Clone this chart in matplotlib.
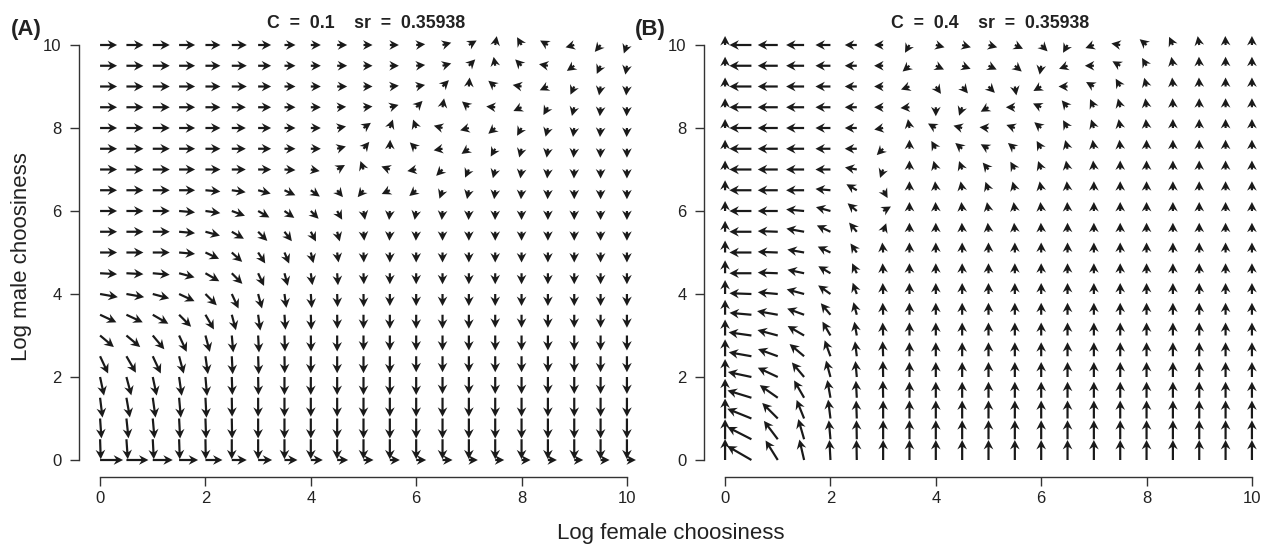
import numpy as np
import matplotlib
matplotlib.use("Agg")
import matplotlib.pyplot as plt

plt.rcParams['font.family'] = ['Liberation Sans', 'DejaVu Sans']

# ---------------- data ----------------
x_vals = [i * 0.5 for i in range(21)]          # log female choosiness grid
y_vals = [i * 0.5 for i in range(21)]          # log male choosiness grid
ticks = [0, 2, 4, 6, 8, 10]
titles = ["C  =  0.1    sr  =  0.35938", "C  =  0.4    sr  =  0.35938"]
panel_labels = ["(A)", "(B)"]
xlabel = "Log female choosiness"
ylabel = "Log male choosiness"

# Arrow directions (screen degrees, 0 = right, 90 = up); rows listed from y=10 down to y=0
angles_A = [
    [0]*12 + [5, 15, 30, 80, 120, 150, 195, 230, 250],                      # y=10
    [0]*12 + [5, 15, 45, 100, 135, 170, 215, 245, 260],                     # 9.5
    [0]*11 + [5, 10, 45, 85, 140, 170, 205, 245, 260, 265],                 # 9
    [0]*9 + [3, 5, 15, 45, 80, 140, 175, 205, 240, 255, 265, 268],          # 8.5
    [0]*9 + [10, 35, 70, 110, 165, 195, 220, 240, 255, 262, 266, 268],      # 8
    [0]*9 + [15, 50, 88, 135, 190, 215, 240, 255, 262, 265, 268, 270],      # 7.5
    [0]*7 + [-3, -10, 30, 110, 160, 190, 225, 245, 255, 262, 265, 268, 270, 270],  # 7
    [0]*4 + [-5, -8, -15, -25, -35, -50, 230, 205, 220, 250, 258, 263, 266, 268, 270, 270, 270],  # 6.5
    [0]*3 + [-5, -8, -20, -30, -35, -45, -60, -80, -95, -100, -95, -92, -91, -90, -90, -90, -90, -90],  # 6
    [0]*3 + [-5, -15, -30, -45, -52, -62, -75, -85, -93, -92] + [-90]*8,    # 5.5
    [0, 0, 0, -5, -25, -42, -57, -67, -76, -82, -88] + [-90]*10,            # 5
    [-3, -3, -5, -15, -30, -45, -65, -75, -82, -86, -88] + [-90]*10,        # 4.5
    [-10, -10, -15, -25, -45, -65, -75, -82, -86, -88, -89] + [-90]*10,     # 4
    [-25, -25, -30, -45, -60, -75, -82, -86, -88, -89, -90] + [-90]*10,     # 3.5
    [-40, -40, -50, -65, -75, -85, -87, -88, -89, -90, -90] + [-90]*10,     # 3
    [-65, -60, -65, -75, -82, -87, -88, -89, -90, -90, -90] + [-90]*10,     # 2.5
    [-78, -75, -78, -82, -85, -88, -89, -90, -90, -90, -90] + [-90]*10,     # 2
    [-83, -80, -82, -85, -87, -89, -90, -90, -90, -90, -90] + [-90]*10,     # 1.5
    [-86, -84, -85, -87, -88, -89, -90, -90, -90, -90, -90] + [-90]*10,     # 1
    [-88, -86, -87, -88, -89, -90, -90, -90, -90, -90, -90] + [-90]*10,     # 0.5
    [0]*21,                                                                  # 0
]

# Arrow lengths in pixels (rows from y=10 down to y=0)
lengths_A = [
    [17, 17, 17, 16, 15, 15, 13, 11, 10, 10, 9] + [9]*10,
    [17, 17, 17, 16, 15, 15, 13, 11, 10, 10, 9] + [9]*10,
    [17, 17, 17, 16, 15, 15, 13, 11, 10, 10, 9] + [9]*10,
    [17, 17, 17, 16, 15, 14, 13, 11, 10, 9, 9] + [9]*10,
    [17, 17, 17, 16, 15, 14, 13, 11, 10, 9, 9] + [9]*10,
    [17, 17, 17, 16, 15, 14, 13, 11, 10, 9, 9] + [9]*10,
    [17, 17, 17, 16, 15, 14, 13, 11, 9, 9, 9] + [9]*10,
    [17, 17, 17, 16, 15, 14, 13, 12, 11, 9, 9] + [9]*10,
    [17, 17, 17, 16, 15, 14, 13, 12, 11, 10, 9] + [9]*10,
    [17, 17, 17, 16, 15, 14, 13, 12, 11, 10, 9] + [9]*10,
    [17, 17, 17, 16, 15, 14, 13, 12, 11, 10, 10] + [10]*10,
    [17, 17, 17, 16, 16, 15, 14, 13, 12, 12, 11] + [11]*10,
    [18, 18, 17, 17, 16, 16, 15, 14, 14, 13, 13] + [12]*10,
    [18, 18, 18, 17, 17, 16, 16, 15, 15, 14, 14] + [14]*4 + [13]*6,
    [18, 18, 18, 18, 17, 17, 17, 16, 16, 16, 15] + [15]*10,
    [19, 19, 19, 18, 18, 18, 18, 17, 17, 17, 17] + [17, 16] + [16]*8,
    [19, 19, 19, 19, 19, 18, 18, 18, 18, 18, 18] + [18, 18, 17] + [17]*7,
    [20]*5 + [19]*16,
    [20]*21,
    [20]*21,
    [23, 22, 20, 19, 17, 15, 14, 13, 12, 11, 10, 10, 10, 10, 9, 9, 9, 9, 9, 9, 9],
]

angles_B = [
    [90] + [180]*6 + [240, -15, -15, -15, -25, -45, -120, 200, 170, 140, 115, 100, 92, 90],   # y=10
    [90] + [180]*6 + [220, -25, -20, -25, -40, -100, 200, 180, 150, 120, 100, 92, 90, 90],    # 9.5
    [90] + [180]*6 + [200, -55, -50, -45, -80, 210, 180, 150, 120, 105, 95, 92, 90, 90],      # 9
    [90] + [180]*6 + [185, -90, -110, 210, 180, 155, 130, 115, 105, 98, 92, 90, 90, 90],      # 8.5
    [90] + [180]*5 + [190, 100, 150, 165, 175, 160, 140, 120, 108, 100, 95, 90, 90, 90, 90],  # 8
    [90] + [180]*5 + [225, 90, 120, 140, 150, 140, 120, 105, 98, 95, 90, 90, 90, 90, 90],     # 7.5
    [90] + [180]*4 + [170, 250, 90, 105, 110, 130, 120, 110, 100, 95, 90, 90, 90, 90, 90, 90],  # 7
    [90] + [180]*3 + [175, 150, -60, 90, 95, 100, 110, 105, 100, 95, 90, 90, 90, 90, 90, 90, 90],  # 6.5
    [90, 180, 180, 175, 165, 140, 30, 90, 92, 95, 100, 98, 95, 92] + [90]*7,                 # 6
    [90, 180, 178, 170, 155, 130, 70, 90, 90, 92, 95, 95, 92] + [90]*8,                      # 5.5
    [90, 180, 178, 170, 155, 125, 95] + [90]*14,                                               # 5
    [90, 180, 178, 168, 150, 115, 93] + [90]*14,                                               # 4.5
    [90, 178, 175, 165, 145, 110, 92] + [90]*14,                                               # 4
    [90, 175, 170, 160, 130, 105, 92] + [90]*14,                                               # 3.5
    [90, 172, 165, 150, 120, 100, 92] + [90]*14,                                               # 3
    [90, 170, 160, 140, 110, 97, 92] + [90]*14,                                                # 2.5
    [90, 168, 155, 130, 105, 95, 91] + [90]*14,                                                # 2
    [90, 163, 145, 120, 100, 93, 91] + [90]*14,                                                # 1.5
    [90, 158, 135, 112, 97, 92, 90] + [90]*14,                                                 # 1
    [90, 153, 127, 106, 95, 91, 90] + [90]*14,                                                 # 0.5
    [90, 150, 122, 103, 93, 91, 90] + [90]*14,                                                 # 0
]

lengths_B = [
    [9, 22, 20, 18, 15, 12, 9] + [9]*14,
    [9, 22, 20, 18, 15, 12, 9] + [9]*14,
    [9, 22, 20, 18, 15, 12, 9] + [9]*14,
    [9, 22, 20, 18, 15, 12, 9] + [9]*14,
    [9, 22, 20, 18, 15, 12, 9] + [9]*14,
    [9, 22, 20, 18, 15, 12, 9] + [9]*14,
    [9, 22, 20, 18, 15, 12, 9] + [9]*14,
    [10, 22, 20, 18, 15, 12, 9] + [9]*14,
    [10, 22, 20, 18, 15, 12, 9] + [9]*14,
    [11, 22, 20, 18, 15, 12, 9] + [9]*14,
    [12, 22, 20, 17, 14, 11, 10] + [10]*14,
    [13, 22, 20, 17, 14, 11, 10] + [10]*14,
    [14, 22, 20, 18, 15, 12, 11] + [11]*14,
    [15, 22, 21, 18, 15, 13, 12] + [12]*14,
    [16, 23, 21, 19, 16, 14, 13] + [13]*14,
    [17, 23, 21, 19, 17, 15, 15] + [14]*14,
    [18, 24, 22, 19, 17, 16, 16] + [15]*14,
    [19, 25, 22, 20, 18, 17, 17] + [16]*14,
    [20, 26, 22, 20, 19, 18, 18] + [18]*14,
    [20, 27, 23, 21, 19, 19, 19] + [19]*14,
    [21, 28, 23, 21, 20, 20, 20] + [20]*14,
]

# ---------------- drawing ----------------
W, H = 1265, 545
fig = plt.figure(figsize=(W / 100, H / 100), dpi=100)
ink = '#1a1a1a'

ax_w = 569 / W
ax_h = 448.2 / H
ax_b = 1 - 476.6 / H
lefts = [79 / W, 704 / W]
centers = [366 / W, 990 / W]
label_x = [11 / W, 635 / W]

panels = [(angles_A, lengths_A), (angles_B, lengths_B)]
X, Y = np.meshgrid(np.array(x_vals), np.array(y_vals))

for k, (ang, ln) in enumerate(panels):
    ax = fig.add_axes([lefts[k], ax_b, ax_w, ax_h])
    a = np.deg2rad(np.array(ang, dtype=float)[::-1])
    L = np.array(ln, dtype=float)[::-1]
    U = L * np.cos(a)
    V = L * np.sin(a)
    ax.quiver(X, Y, U, V, angles='uv', scale_units='dots', scale=1,
              units='dots', width=2.2, headwidth=4.4, headlength=4.3,
              headaxislength=3.2, minshaft=0, minlength=0, pivot='tail',
              color=ink, zorder=3)
    ax.set_xlim(-0.4, 10.4)
    ax.set_ylim(-0.4, 10.4)
    for s in ['top', 'right']:
        ax.spines[s].set_visible(False)
    for s in ['left', 'bottom']:
        ax.spines[s].set_bounds(0, 10)
        ax.spines[s].set_color('#333333')
        ax.spines[s].set_linewidth(1.0)
    ax.set_xticks(ticks)
    ax.set_yticks(ticks)
    ax.tick_params(direction='out', length=6.5, width=1.0, colors='#333333',
                   labelcolor='#222222', labelsize=12)
    ax.tick_params(axis='x', pad=4)
    ax.tick_params(axis='y', pad=6)
    ax.patch.set_alpha(0)
    fig.text(centers[k], 1 - 24 / H, titles[k], ha='center', va='center',
             fontsize=12.8, fontweight='bold', color='#222222')
    fig.text(label_x[k], 1 - 29 / H, panel_labels[k], ha='left', va='center',
             fontsize=16, fontweight='bold', color='#222222')

fig.text(671 / W, 1 - 533 / H, xlabel, ha='center', va='center',
         fontsize=16, color='#222222')
fig.text(22 / W, 1 - 257 / H, ylabel, ha='center', va='center',
         rotation=90, fontsize=16, color='#222222')

fig.savefig('out.png', dpi=100)
